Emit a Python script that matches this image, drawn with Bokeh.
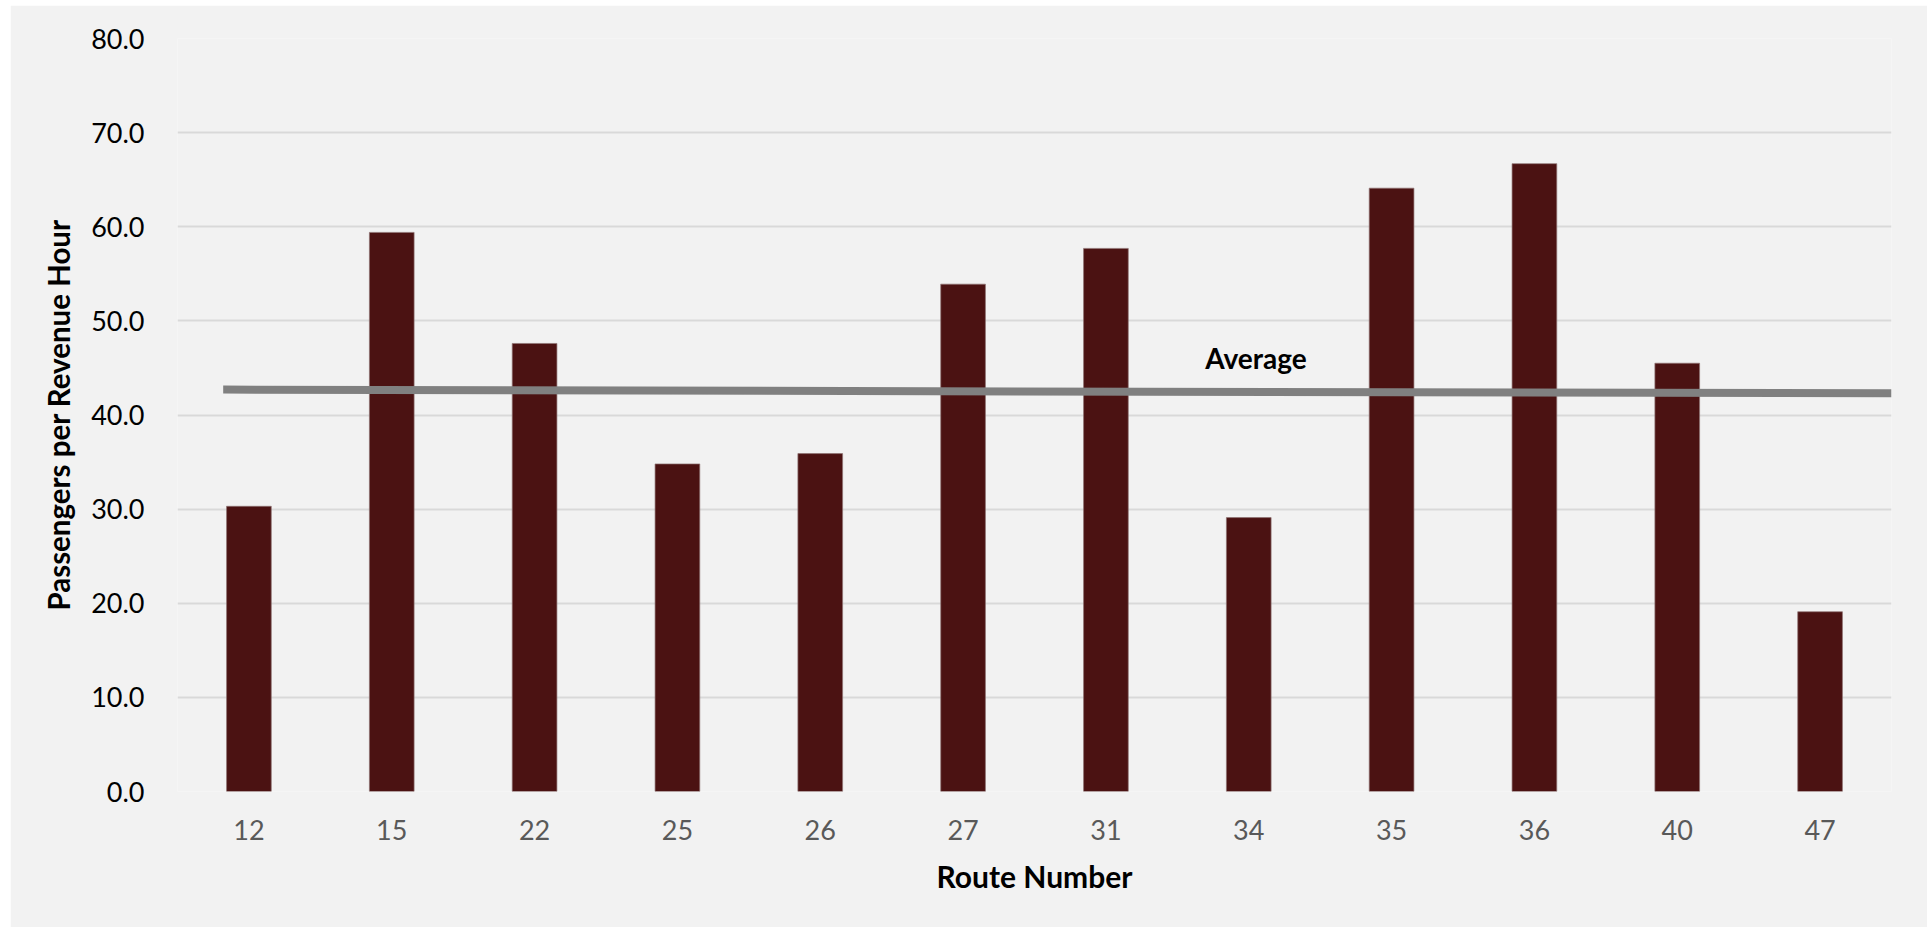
from bokeh.plotting import figure
from bokeh.models import Range1d, FixedTicker, NumeralTickFormatter, ColumnDataSource, Label
from bokeh.embed import file_html
from bokeh.resources import INLINE

# Passengers per revenue hour by route
routes = ["12", "15", "22", "25", "26", "27", "31", "34", "35", "36", "40", "47"]
passengers = [30.3, 59.4, 47.6, 34.8, 35.9, 53.9, 57.7, 29.1, 64.1, 66.7, 45.5, 19.1]

# System average line (start / end of the drawn segment)
average_x = [0.32, 12.0]
average_y = [42.7, 42.3]

y_ticks = [0, 10, 20, 30, 40, 50, 60, 70, 80]

BG = "#F2F2F2"
BAR = "#4B1212"
FONT = "Lato"

positions = [i + 0.5 for i in range(len(routes))]
src = ColumnDataSource(data=dict(x=positions, top=passengers, route=routes))

p = figure(
    width=1917, height=922,
    x_range=Range1d(0, len(routes)), y_range=Range1d(0, 80),
    output_backend="svg", toolbar_location=None,
    min_border_left=167, min_border_right=36,
    min_border_top=33, min_border_bottom=136,
    background_fill_color=BG, border_fill_color=BG,
    outline_line_color=None,
    margin=(5, 0, 0, 10),
)

p.vbar(x="x", top="top", bottom=0, width=0.313, source=src,
       fill_color=BAR, line_color="#8f7373", line_width=1, line_alpha=0.7)

p.line(x=average_x, y=average_y, line_color="#808080", line_width=8)

p.add_layout(Label(x=7.55, y=46.1, text="Average", text_align="center",
                   text_baseline="alphabetic", text_font=FONT,
                   text_font_style="bold", text_font_size="28px",
                   text_color="#000000"))

# Grid
p.xgrid.grid_line_color = None
p.ygrid.grid_line_color = "#D9D9D9"
p.ygrid.grid_line_width = 2
p.ygrid.ticker = FixedTicker(ticks=y_ticks)

# Y axis
ya = p.yaxis[0]
ya.ticker = FixedTicker(ticks=y_ticks)
ya.formatter = NumeralTickFormatter(format="0.0")
ya.axis_line_color = None
ya.major_tick_line_color = None
ya.minor_tick_line_color = None
ya.major_label_standoff = 27
ya.major_label_text_font = FONT
ya.major_label_text_font_size = "27px"
ya.major_label_text_color = "#000000"
ya.axis_label = "Passengers per Revenue Hour"
ya.axis_label_text_font = FONT
ya.axis_label_text_font_style = "bold"
ya.axis_label_text_font_size = "29.5px"
ya.axis_label_text_color = "#000000"
ya.axis_label_standoff = 12

# X axis
xa = p.xaxis[0]
xa.ticker = FixedTicker(ticks=positions)
xa.major_label_overrides = {pos: r for pos, r in zip(positions, routes)}
xa.axis_line_color = None
xa.major_tick_line_color = None
xa.minor_tick_line_color = None
xa.major_label_standoff = 22
xa.major_label_text_font = FONT
xa.major_label_text_font_size = "27px"
xa.major_label_text_color = "#595959"
xa.axis_label = "Route Number"
xa.axis_label_text_font = FONT
xa.axis_label_text_font_style = "bold"
xa.axis_label_text_font_size = "30px"
xa.axis_label_text_color = "#000000"
xa.axis_label_standoff = 15

open("out.html", "w").write(file_html(p, INLINE))
